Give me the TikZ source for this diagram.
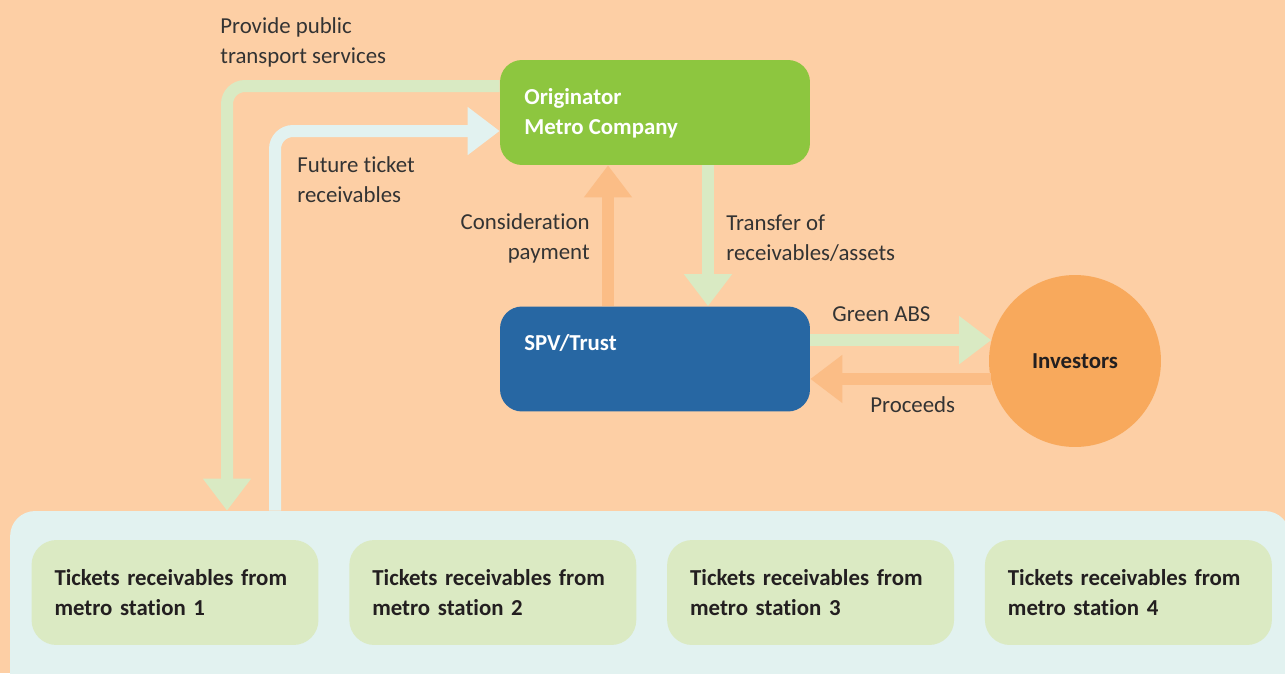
\documentclass[tikz,border=0pt]{standalone}
\usepackage{fontspec}
\setmainfont{Carlito}[Ligatures=NoCommon]
\usepackage{tikz}
\usepackage{xcolor}
\usetikzlibrary{
    arrows.meta,
    calc,
    positioning
}

\definecolor{peach}{HTML}{FDCFA5}
\definecolor{metrogreen}{HTML}{8DC63F}
\definecolor{spvblue}{HTML}{2767A3}
\definecolor{invorange}{HTML}{F8A95C}
\definecolor{panelcyan}{HTML}{E2F2F0}
\definecolor{stationgreen}{HTML}{DBEAC3}
\definecolor{flowgreen}{HTML}{D9EAC3}
\definecolor{floworange}{HTML}{FBBD86}
\definecolor{textgray}{HTML}{333333}
\definecolor{darktext}{HTML}{231F20}

\begin{document}
\begin{tikzpicture}[x=0.02cm, y=-0.02cm,
    every node/.style={inner sep=0pt, text=textgray, font=\fontsize{13}{17}\selectfont},
    mainbox/.style={rounded corners=0.44cm, minimum width=6.2cm, minimum height=2.1cm},
    boxtext/.style={anchor=west, align=left, text=white, font=\fontsize{13}{17}\selectfont\bfseries},
    stationbox/.style={fill=stationgreen, rounded corners=0.5cm, minimum width=5.74cm, minimum height=2.1cm,
        text width=4.82cm, inner xsep=0.46cm, align=left, text=darktext, font=\fontsize{13}{17}\selectfont\bfseries},
    fatarrow/.style={line width=0.24cm, -{Triangle[width=0.92cm, length=0.64cm]}},
    flowlabel/.style={anchor=west, align=left}
]
    \useasboundingbox (0, 0) rectangle (1285, 673);
    \fill[peach] (0, 0) rectangle (1285, 673);
    \clip (0, 0) rectangle (1285, 673);

    % metro stations
    \node[fill=panelcyan, rounded corners=0.5cm, minimum width=25.6cm, minimum height=3.78cm] (panel) at (650, 605.5) {};
    \foreach \i in {1, ..., 4}
        \node[stationbox] (st\i) at ({175 + (\i - 1) * 317.8}, 592.5) {Tickets receivables from\\metro station \i};

    \node[mainbox, fill=metrogreen] (orig) at (655, 112.5) {};
    \node[mainbox, fill=spvblue] (spv) at (655, 359) {};
    \node[circle, fill=invorange, minimum size=3.44cm, text=darktext, font=\fontsize{13}{17}\selectfont\bfseries] (inv) at (1075, 361) {Investors};
    \node[boxtext] (origtext) at (524, 113) {Originator\\Metro Company};
    \node[boxtext] (spvtext) at (524, 343) {SPV/Trust};

    % flows
    \draw[fatarrow, flowgreen, rounded corners=0.36cm] (orig.west |- 0, 86) -| (panel.north -| 227, 0);
    \draw[fatarrow, panelcyan, rounded corners=0.36cm] (panel.north -| 275, 0) |- (orig.west |- 0, 131);
    \draw
        (spv.north -| 608, 0) edge[fatarrow, floworange] (orig.south -| 608, 0)
        (orig.south -| 708, 0) edge[fatarrow, flowgreen] (spv.north -| 708, 0)
        (spv.east |- inv.166) edge[fatarrow, flowgreen] (inv.166)
        (inv.192) edge[fatarrow, floworange] (spv.east |- inv.192);

    \node[flowlabel] (provide) at (220, 42) {Provide public\\transport services};
    \node[flowlabel] (future) at (297, 180) {Future ticket\\receivables};
    \node[flowlabel, anchor=east, align=right] (consid) at (590, 238) {Consideration\\payment};
    \node[flowlabel] (transfer) at (726, 238) {Transfer of\\receivables/assets};
    \node[flowlabel] (abs) at (832, 314) {Green ABS};
    \node[flowlabel] (proceeds) at (870, 405) {Proceeds};
\end{tikzpicture}
\end{document}
